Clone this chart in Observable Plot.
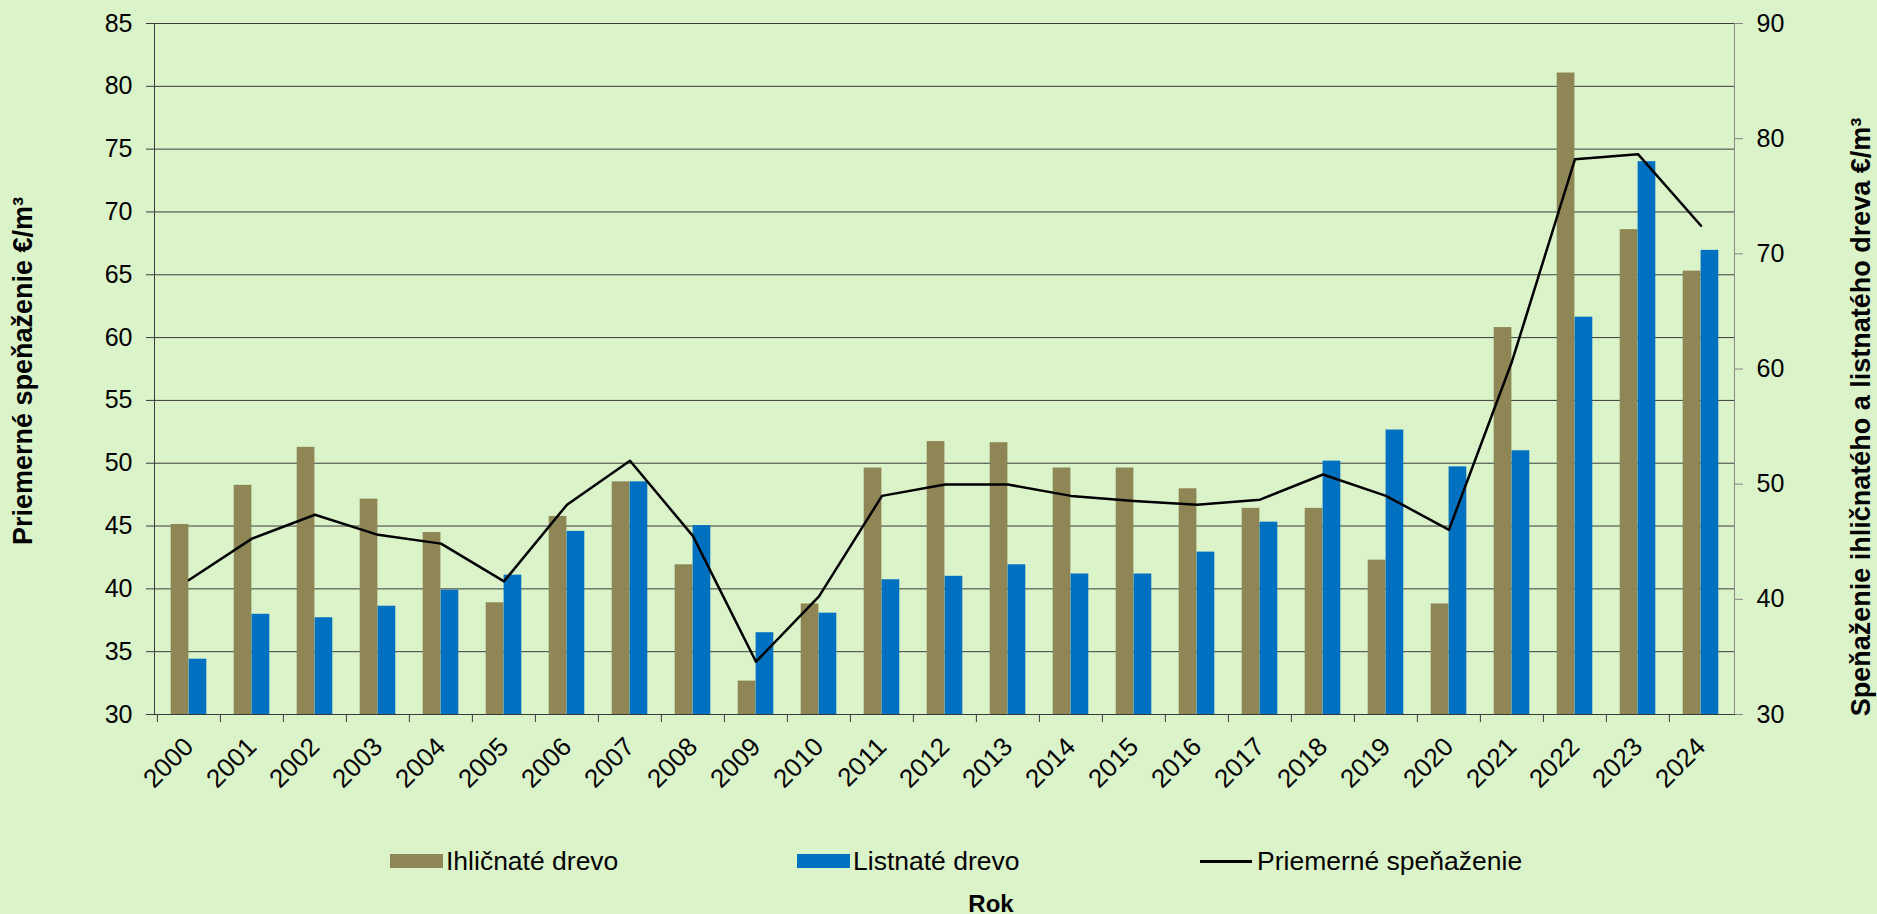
<!DOCTYPE html>
<html>
<head>
<meta charset="utf-8">
<script src="https://cdn.jsdelivr.net/npm/d3@7"></script>
<script src="https://cdn.jsdelivr.net/npm/@observablehq/plot@0.6"></script>
<style>
  html, body { margin: 0; padding: 0; background: #DAF3C9; }
  body { width: 1877px; height: 914px; overflow: hidden; font-family: "Liberation Sans", Arial, sans-serif; color: #000; }
  #chart svg { display: block; }
  #below { position: relative; height: 79px; }
  .item { position: absolute; top: 11px; display: flex; align-items: flex-start; font-size: 26.5px; line-height: 30px; white-space: nowrap; }
  .sw { width: 53px; height: 14px; margin-top: 8px; margin-right: 3px; }
  .ln { width: 52px; height: 2.5px; margin-top: 14px; margin-right: 5px; background: #000; }
  #rok { position: absolute; top: 56px; left: 891px; width: 200px; text-align: center; font-weight: bold; font-size: 24px; line-height: 25px; }
</style>
</head>
<body>
<div id="chart"></div>
<div id="below">
  <div class="item" style="left:390px"><div class="sw" style="background:#8F8655"></div><span>Ihličnaté drevo</span></div>
  <div class="item" style="left:797px"><div class="sw" style="background:#0070C0"></div><span>Listnaté drevo</span></div>
  <div class="item" style="left:1200px"><div class="ln"></div><span>Priemerné speňaženie</span></div>
  <div id="rok">Rok</div>
</div>
<script>
// ---- data ----
const years = ["2000","2001","2002","2003","2004","2005","2006","2007","2008","2009","2010","2011","2012","2013","2014","2015","2016","2017","2018","2019","2020","2021","2022","2023","2024"];
// Ihličnaté drevo (right axis, €/m³)
const conifer = [46.5, 49.9, 53.2, 48.7, 45.8, 39.7, 47.2, 50.2, 43.0, 32.9, 39.6, 51.4, 53.7, 53.6, 51.4, 51.4, 49.6, 47.9, 47.9, 43.4, 39.6, 63.6, 85.7, 72.1, 68.5];
// Listnaté drevo (right axis, €/m³)
const broadleaf = [34.8, 38.7, 38.4, 39.4, 40.8, 42.1, 45.9, 50.2, 46.4, 37.1, 38.8, 41.7, 42.0, 43.0, 42.2, 42.2, 44.1, 46.7, 52.0, 54.7, 51.5, 52.9, 64.5, 78.0, 70.3];
// Priemerné speňaženie (left axis, €/m³)
const average = [40.7, 44.0, 45.9, 44.3, 43.6, 40.6, 46.7, 50.2, 44.2, 34.2, 39.4, 47.4, 48.3, 48.3, 47.4, 47.0, 46.7, 47.1, 49.1, 47.4, 44.7, 58.1, 74.2, 74.6, 68.9];
const leftTicks = [30, 35, 40, 45, 50, 55, 60, 65, 70, 75, 80, 85];
const rightTicks = [30, 40, 50, 60, 70, 80, 90];
const leftTitle = "Priemerné speňaženie €/m³";
const rightTitle = "Speňaženie ihličnatého a listnatého dreva €/m³";

// ---- layout ----
const W = 1877, H = 835;
const mL = 154, mR = 143, mT = 23, mB = H - 714;
const bw = (W - mL - mR) / years.length;
const barW = bw * 0.283;
const outer = (bw - 2 * barW) / 2;

// dual axis: left [30,85], right [30,90]
const L0 = 30, L1 = 85, R0 = 30, R1 = 90;
const toLeft = r => L0 + (r - R0) * (L1 - L0) / (R1 - R0);
const toRight = l => R0 + (l - L0) * (R1 - R0) / (L1 - L0);

const data = years.map((y, i) => ({year: y, con: conifer[i], brd: broadleaf[i], avg: average[i]}));

const chart = Plot.plot({
  width: W, height: H,
  marginLeft: mL, marginRight: mR, marginTop: mT, marginBottom: mB,
  style: {background: "transparent", fontFamily: "'Liberation Sans', Arial, sans-serif", fontSize: "25px", color: "#000", overflow: "visible"},
  x: {type: "band", domain: years, padding: 0},
  y: {domain: [L0, L1]},
  marks: [
    Plot.ruleY(leftTicks.slice(1), {stroke: "#3c3c3c", strokeWidth: 1}),
    Plot.barY(data, {x: "year", y1: L0, y2: d => toLeft(d.con), fill: "#8F8655", insetLeft: outer, insetRight: bw / 2}),
    Plot.barY(data, {x: "year", y1: L0, y2: d => toLeft(d.brd), fill: "#0070C0", insetLeft: bw / 2, insetRight: outer}),
    Plot.line(data, {x: "year", y: "avg", stroke: "#000", strokeWidth: 2.5, strokeLinejoin: "round"}),
    Plot.frame({anchor: "left", stroke: "#3c3c3c"}),
    Plot.frame({anchor: "right", stroke: "#888"}),
    Plot.frame({anchor: "bottom", stroke: "#3c3c3c"}),
    Plot.ruleX(years, {x: d => d, y1: L0, y2: L0, insetBottom: -8, dx: -bw / 2, stroke: "#3c3c3c"}),
    Plot.axisX({tickSize: 0, tickPadding: 28, tickRotate: -45, label: null, fontSize: 26}),
    Plot.axisY(leftTicks, {anchor: "left", tickSize: 8, tickPadding: 14, stroke: "#3c3c3c", fill: "#000", label: null, fontSize: 25}),
    Plot.axisY(rightTicks.map(toLeft), {anchor: "right", tickSize: 8, tickPadding: 14, stroke: "#888", fill: "#000", label: null, fontSize: 25, tickFormat: d => Math.round(toRight(d))}),
    Plot.text([leftTitle], {text: d => d, frameAnchor: "left", textAnchor: "middle", rotate: -90, dx: -131.5, dy: 2, fontWeight: "bold", fontSize: 27, fill: "#000"}),
    Plot.text([rightTitle], {text: d => d, frameAnchor: "right", textAnchor: "middle", rotate: -90, dx: 127, dy: 48, fontWeight: "bold", fontSize: 27, fill: "#000"})
  ]
});
document.getElementById("chart").appendChild(chart);
</script>
</body>
</html>
